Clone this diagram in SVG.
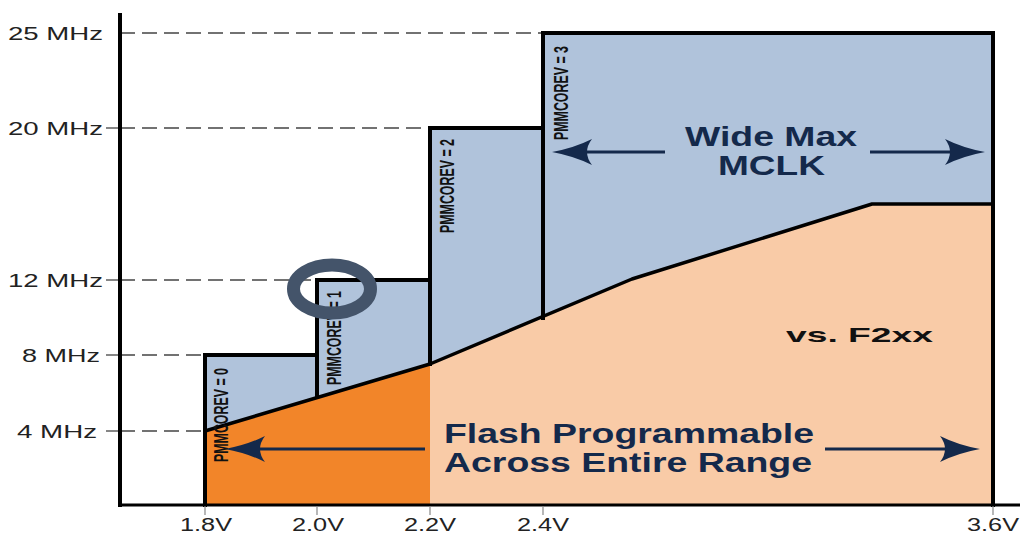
<svg xmlns="http://www.w3.org/2000/svg" width="1024" height="536" viewBox="0 0 1024 536">
  <style>
    .axis { stroke: #000; fill: none; }
    .guide { stroke: #444; stroke-width: 1.3; stroke-dasharray: 15 7; fill: none; }
    .tick { stroke: #444; stroke-width: 1.3; }
    .xtick { stroke: #888; stroke-width: 1.2; }
    .edge { stroke: #000; stroke-width: 4; fill: none; stroke-linecap: square; }
    .curve { stroke: #000; stroke-width: 3.5; fill: none; stroke-linejoin: round; }
    .ylab { font-family: "Liberation Sans", Arial, sans-serif; font-size: 19px; fill: #222; }
    .xlab { font-family: "Liberation Sans", Arial, sans-serif; font-size: 18px; fill: #222; text-anchor: middle; }
    .rev { font-family: "Liberation Sans", Arial, sans-serif; font-size: 21px; font-weight: bold; fill: #111; }
    .big { font-family: "Liberation Sans", Arial, sans-serif; font-size: 27px; font-weight: bold; fill: #14294B; }
    .vs { font-family: "Liberation Sans", Arial, sans-serif; font-size: 21px; font-weight: bold; fill: #111; }
    .arrow { stroke: #14294B; stroke-width: 3.2; fill: none; marker-end: url(#head); }
  </style>
  <defs>
    <marker id="head" viewBox="0 0 40 26" refX="30" refY="13" markerWidth="40" markerHeight="26" markerUnits="userSpaceOnUse" orient="auto">
      <path d="M0,0 Q18,9 40,13 Q18,17 0,26 Q10,13 0,0 Z" fill="#14294B"/>
    </marker>
  </defs>

  <rect width="1024" height="536" fill="#fff"/>

  <!-- operating regions -->
  <g id="max-clock-region">
    <polygon fill="#B0C3DB" points="205,355 317,355 317,280 430,280 430,128 543,128 543,33 993,33 993,204 872,204 632,279 430,364 205,431"/>
  </g>
  <g id="flash-low-region">
    <polygon fill="#F28529" points="205,431 430,364 430,505 205,505"/>
  </g>
  <g id="f2xx-region">
    <polygon fill="#F9CBA7" points="430,364 632,279 872,204 993,204 993,505 430,505"/>
  </g>

  <!-- guide lines from the frequency axis -->
  <g id="guides">
    <line class="guide" x1="120" y1="33" x2="543" y2="33"/>
    <line class="guide" x1="120" y1="128" x2="430" y2="128"/>
    <line class="guide" x1="120" y1="280" x2="317" y2="280"/>
    <line class="guide" x1="120" y1="355" x2="205" y2="355"/>
    <line class="guide" x1="120" y1="431" x2="205" y2="431"/>
    <line class="tick" x1="106" y1="128" x2="120" y2="128"/>
    <line class="tick" x1="106" y1="280" x2="120" y2="280"/>
    <line class="tick" x1="106" y1="355" x2="120" y2="355"/>
    <line class="tick" x1="106" y1="431" x2="120" y2="431"/>
  </g>

  <!-- step outline and flash limit curve -->
  <g id="outline">
    <path class="edge" d="M205,505 V355 H317 V280 H430 V128 H543 V33 H993 V505"/>
    <line class="edge" x1="317" y1="280" x2="317" y2="397"/>
    <line class="edge" x1="430" y1="128" x2="430" y2="364"/>
    <line class="edge" x1="543" y1="33" x2="543" y2="318"/>
    <polyline class="curve" points="205,431 430,364 632,279 872,204 993,204"/>
  </g>

  <!-- axes -->
  <g id="axes">
    <line class="axis" stroke-width="4" x1="120" y1="13" x2="120" y2="507"/>
    <line class="axis" stroke-width="3" x1="118" y1="505" x2="1020" y2="505"/>
    <line class="xtick" x1="205" y1="506" x2="205" y2="515"/>
    <line class="xtick" x1="317" y1="506" x2="317" y2="515"/>
    <line class="xtick" x1="430" y1="506" x2="430" y2="515"/>
    <line class="xtick" x1="543" y1="506" x2="543" y2="515"/>
    <line class="xtick" x1="993" y1="506" x2="993" y2="515"/>
  </g>

  <g id="y-labels">
    <text class="ylab" x="8" y="40" textLength="95" lengthAdjust="spacingAndGlyphs">25 MHz</text>
    <text class="ylab" x="8" y="135" textLength="95" lengthAdjust="spacingAndGlyphs">20 MHz</text>
    <text class="ylab" x="8" y="287" textLength="95" lengthAdjust="spacingAndGlyphs">12 MHz</text>
    <text class="ylab" x="22" y="362" textLength="78" lengthAdjust="spacingAndGlyphs">8 MHz</text>
    <text class="ylab" x="17" y="438" textLength="80" lengthAdjust="spacingAndGlyphs">4 MHz</text>
  </g>

  <g id="x-labels">
    <text class="xlab" x="206" y="531" textLength="52" lengthAdjust="spacingAndGlyphs">1.8V</text>
    <text class="xlab" x="318" y="531" textLength="52" lengthAdjust="spacingAndGlyphs">2.0V</text>
    <text class="xlab" x="430" y="531" textLength="52" lengthAdjust="spacingAndGlyphs">2.2V</text>
    <text class="xlab" x="543" y="531" textLength="52" lengthAdjust="spacingAndGlyphs">2.4V</text>
    <text class="xlab" x="993" y="531" textLength="52" lengthAdjust="spacingAndGlyphs">3.6V</text>
  </g>

  <!-- core voltage level labels -->
  <g id="rev0"><text class="rev" transform="translate(228,462) rotate(-90)" textLength="94" lengthAdjust="spacingAndGlyphs">PMMCOREV = 0</text></g>
  <g id="rev1"><text class="rev" transform="translate(341,385) rotate(-90)" textLength="94" lengthAdjust="spacingAndGlyphs">PMMCOREV = 1</text></g>
  <g id="rev2"><text class="rev" transform="translate(454,233) rotate(-90)" textLength="94" lengthAdjust="spacingAndGlyphs">PMMCOREV = 2</text></g>
  <g id="rev3"><text class="rev" transform="translate(568,140) rotate(-90)" textLength="94" lengthAdjust="spacingAndGlyphs">PMMCOREV = 3</text></g>

  <g id="wide-max-label">
    <text class="big" x="685" y="146" textLength="172" lengthAdjust="spacingAndGlyphs">Wide Max</text>
    <text class="big" x="718" y="175" textLength="107" lengthAdjust="spacingAndGlyphs">MCLK</text>
  </g>
  <g id="flash-label">
    <text class="big" x="444" y="443" textLength="370" lengthAdjust="spacingAndGlyphs">Flash Programmable</text>
    <text class="big" x="444" y="472" textLength="368" lengthAdjust="spacingAndGlyphs">Across Entire Range</text>
  </g>
  <g id="f2xx-label">
    <text class="vs" x="786" y="342" textLength="147" lengthAdjust="spacingAndGlyphs">vs. F2xx</text>
  </g>

  <!-- range arrows -->
  <g id="connectors">
    <line class="arrow" x1="665" y1="152" x2="562" y2="152"/>
    <line class="arrow" x1="870" y1="152" x2="975" y2="152"/>
    <line class="arrow" x1="425" y1="449" x2="235" y2="449"/>
    <line class="arrow" x1="825" y1="449" x2="970" y2="449"/>
  </g>

  <!-- highlight ring -->
  <g id="highlight">
    <ellipse cx="332" cy="289" rx="38.5" ry="24" fill="none" stroke="#44546A" stroke-width="13"/>
  </g>
</svg>
